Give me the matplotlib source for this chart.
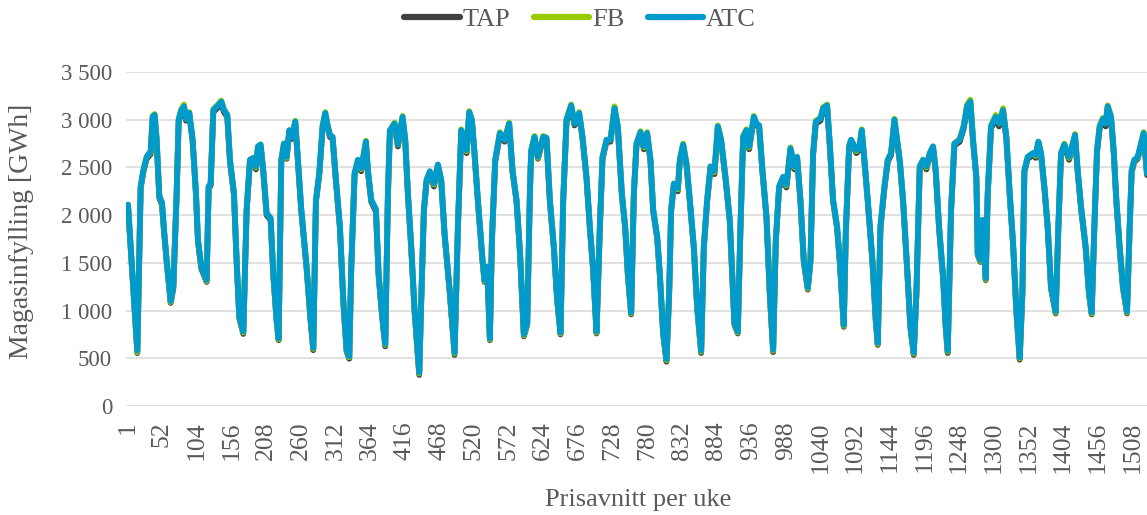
import matplotlib
matplotlib.use('Agg')
import matplotlib.pyplot as plt
from matplotlib.ticker import FixedLocator, FuncFormatter

# ---- data: reservoir filling per weekly price section [GWh] ----
weeks = [1, 15, 20, 24, 29, 35, 38, 41, 44, 48, 52, 55, 59, 65, 69, 74, 77, 81, 85, 88,
         93, 98, 103, 106, 111, 119, 122, 125, 129, 136, 141, 145, 150, 154, 160, 164, 168, 174, 179, 184,
         189, 193, 196, 200, 204, 209, 215, 219, 224, 227, 231, 235, 239, 243, 247, 252, 255, 261, 269, 275,
         279, 283, 288, 293, 297, 300, 304, 308, 313, 319, 324, 329, 333, 336, 341, 346, 351, 358, 361, 366,
         373, 377, 382, 387, 391, 394, 401, 406, 413, 417, 421, 426, 431, 438, 441, 445, 449, 454, 460, 466,
         471, 476, 484, 491, 496, 501, 505, 509, 513, 517, 521, 526, 533, 536, 540, 544, 547, 552, 559, 566,
         573, 578, 584, 589, 595, 600, 604, 606, 611, 616, 624, 629, 634, 640, 645, 650, 654, 659, 666, 671,
         678, 683, 689, 694, 699, 704, 709, 713, 719, 725, 731, 736, 742, 747, 751, 756, 760, 764, 770, 775,
         780, 785, 789, 795, 799, 804, 809, 813, 816, 820, 826, 829, 834, 839, 844, 850, 855, 861, 865, 870,
         875, 881, 886, 891, 898, 904, 911, 916, 920, 924, 929, 933, 940, 944, 948, 953, 959, 964, 969, 973,
         978, 984, 989, 995, 1001, 1005, 1010, 1015, 1021, 1025, 1029, 1033, 1040, 1044, 1050, 1054, 1059, 1065, 1069, 1075,
         1078, 1083, 1086, 1094, 1098, 1102, 1106, 1111, 1118, 1123, 1126, 1130, 1136, 1141, 1146, 1151, 1155, 1159, 1164, 1170,
         1175, 1180, 1184, 1189, 1194, 1199, 1204, 1209, 1213, 1218, 1224, 1228, 1231, 1236, 1241, 1249, 1255, 1260, 1265, 1269,
         1274, 1276, 1280, 1283, 1288, 1291, 1296, 1303, 1308, 1314, 1319, 1324, 1329, 1334, 1339, 1343, 1346, 1351, 1359, 1363,
         1367, 1371, 1376, 1381, 1386, 1393, 1397, 1401, 1406, 1413, 1416, 1422, 1426, 1431, 1438, 1443, 1447, 1451, 1455, 1459,
         1464, 1468, 1471, 1476, 1480, 1484, 1489, 1494, 1500, 1504, 1507, 1511, 1516, 1521, 1525, 1530]

atc = [2110, 580, 2300, 2470, 2610, 2670, 3030, 3050, 2790, 2200, 2130, 1850, 1530, 1100, 1250, 2230, 3000, 3100, 3140, 3010,
       3070, 2790, 2230, 1740, 1460, 1320, 2300, 2330, 3100, 3150, 3190, 3100, 3050, 2580, 2230, 1530, 940, 780, 2060, 2580,
       2600, 2510, 2720, 2740, 2470, 2020, 1970, 1390, 910, 710, 2580, 2750, 2610, 2890, 2820, 2980, 2680, 2060, 1460, 910,
       610, 2160, 2440, 2930, 3070, 2960, 2840, 2820, 2370, 1880, 1120, 590, 520, 1460, 2440, 2580, 2490, 2770, 2470, 2160,
       2060, 1390, 980, 650, 2230, 2890, 2960, 2740, 3030, 2790, 2230, 1670, 1010, 350, 1120, 2060, 2370, 2460, 2330, 2530,
       2370, 1810, 1190, 560, 1880, 2890, 2820, 2680, 3080, 3000, 2650, 2160, 1530, 1320, 1460, 710, 1740, 2580, 2860, 2790,
       2960, 2470, 2160, 1640, 750, 870, 2230, 2680, 2820, 2610, 2820, 2810, 2160, 1670, 1120, 770, 2160, 3000, 3150, 2960,
       3070, 2820, 2400, 1880, 1430, 780, 1880, 2610, 2790, 2790, 3120, 2930, 2230, 1880, 1390, 980, 2230, 2750, 2870, 2720,
       2860, 2580, 2060, 1780, 1390, 770, 490, 1190, 2060, 2330, 2280, 2580, 2740, 2540, 2160, 1670, 1050, 580, 1670, 2160,
       2510, 2460, 2930, 2790, 2370, 1950, 870, 780, 1880, 2820, 2890, 2720, 3030, 2960, 2940, 2470, 1990, 1190, 590, 1740,
       2300, 2400, 2320, 2700, 2510, 2610, 2160, 1530, 1240, 1530, 2650, 2980, 3010, 3120, 3150, 2750, 2160, 1880, 1530, 850,
       1810, 2720, 2790, 2680, 2700, 2890, 2580, 2160, 1530, 910, 660, 1880, 2300, 2580, 2650, 3000, 2790, 2580, 2160, 1460,
       840, 560, 1190, 2510, 2580, 2510, 2650, 2720, 2470, 1880, 1360, 840, 580, 2060, 2750, 2790, 2930, 3140, 3190, 2790,
       2400, 1600, 1530, 1950, 1340, 2230, 2930, 3030, 2960, 3100, 2820, 2230, 1710, 1010, 510, 1190, 2470, 2610, 2650, 2630,
       2770, 2650, 2300, 1880, 1250, 990, 1880, 2650, 2740, 2610, 2680, 2840, 2470, 2090, 1670, 1190, 980, 1880, 2680, 2930,
       3010, 2960, 3140, 3030, 2680, 2160, 1670, 1250, 990, 1880, 2470, 2580, 2610, 2750, 2860, 2440]

tap = [2100, 555, 2280, 2450, 2590, 2640, 3010, 3030, 2770, 2180, 2110, 1830, 1510, 1080, 1230, 2210, 2980, 3080, 3120, 2990,
       3050, 2770, 2210, 1720, 1440, 1300, 2280, 2310, 3080, 3130, 3170, 3080, 3030, 2560, 2210, 1510, 920, 755, 2040, 2560,
       2580, 2480, 2700, 2720, 2450, 2000, 1950, 1370, 890, 690, 2560, 2730, 2590, 2870, 2800, 2960, 2660, 2040, 1440, 890,
       585, 2140, 2420, 2910, 3050, 2940, 2820, 2800, 2350, 1860, 1100, 570, 495, 1440, 2420, 2560, 2460, 2750, 2450, 2140,
       2040, 1370, 960, 625, 2210, 2870, 2940, 2720, 3010, 2770, 2210, 1650, 990, 325, 1100, 2040, 2350, 2430, 2300, 2510,
       2350, 1790, 1170, 535, 1860, 2870, 2800, 2650, 3060, 2980, 2630, 2140, 1510, 1300, 1440, 690, 1720, 2560, 2840, 2770,
       2940, 2450, 2140, 1620, 730, 850, 2210, 2660, 2800, 2590, 2800, 2790, 2140, 1650, 1100, 750, 2140, 2980, 3130, 2940,
       3050, 2800, 2380, 1860, 1410, 760, 1860, 2590, 2770, 2770, 3100, 2910, 2210, 1860, 1370, 960, 2210, 2730, 2850, 2690,
       2840, 2560, 2040, 1760, 1370, 750, 465, 1170, 2040, 2310, 2250, 2560, 2720, 2520, 2140, 1650, 1030, 555, 1650, 2140,
       2490, 2430, 2910, 2770, 2350, 1930, 850, 760, 1860, 2800, 2870, 2690, 3010, 2940, 2920, 2450, 1970, 1170, 565, 1720,
       2280, 2380, 2290, 2680, 2480, 2590, 2140, 1510, 1220, 1510, 2630, 2960, 2990, 3100, 3130, 2730, 2140, 1860, 1510, 830,
       1790, 2700, 2770, 2650, 2680, 2870, 2560, 2140, 1510, 890, 640, 1860, 2280, 2560, 2630, 2980, 2770, 2560, 2140, 1440,
       820, 535, 1170, 2490, 2560, 2480, 2630, 2700, 2450, 1860, 1340, 820, 555, 2040, 2730, 2770, 2910, 3120, 3170, 2770,
       2380, 1580, 1510, 1930, 1320, 2210, 2910, 3010, 2930, 3080, 2800, 2210, 1690, 990, 485, 1170, 2450, 2590, 2630, 2600,
       2750, 2630, 2280, 1860, 1230, 970, 1860, 2630, 2720, 2580, 2660, 2820, 2450, 2070, 1650, 1170, 960, 1860, 2660, 2910,
       2990, 2930, 3120, 3010, 2660, 2140, 1650, 1230, 970, 1860, 2450, 2560, 2590, 2730, 2840, 2420]

fb = [2110, 565, 2300, 2470, 2610, 2660, 3040, 3060, 2790, 2200, 2130, 1850, 1530, 1090, 1250, 2230, 3010, 3110, 3160, 3010,
      3080, 2790, 2230, 1740, 1460, 1310, 2300, 2330, 3110, 3160, 3200, 3110, 3050, 2580, 2230, 1530, 930, 770, 2060, 2580,
      2600, 2500, 2720, 2740, 2470, 2020, 1970, 1390, 900, 700, 2580, 2750, 2600, 2890, 2820, 2990, 2680, 2060, 1460, 900,
      600, 2160, 2440, 2940, 3080, 2960, 2840, 2820, 2370, 1880, 1110, 580, 510, 1460, 2440, 2580, 2480, 2780, 2470, 2160,
      2060, 1390, 970, 640, 2230, 2890, 2970, 2740, 3040, 2790, 2230, 1670, 1000, 340, 1120, 2060, 2370, 2450, 2320, 2530,
      2370, 1810, 1180, 550, 1880, 2900, 2820, 2670, 3090, 3000, 2650, 2160, 1530, 1310, 1460, 700, 1740, 2580, 2870, 2790,
      2970, 2470, 2160, 1640, 740, 860, 2230, 2680, 2830, 2600, 2830, 2810, 2160, 1670, 1110, 760, 2160, 3010, 3160, 2960,
      3080, 2820, 2400, 1880, 1430, 770, 1880, 2610, 2790, 2790, 3140, 2930, 2230, 1880, 1380, 970, 2230, 2750, 2880, 2710,
      2870, 2580, 2060, 1780, 1380, 760, 480, 1190, 2060, 2330, 2270, 2580, 2750, 2540, 2160, 1670, 1040, 570, 1670, 2160,
      2510, 2450, 2940, 2790, 2370, 1950, 860, 770, 1880, 2830, 2900, 2710, 3040, 2960, 2940, 2470, 1990, 1180, 580, 1740,
      2300, 2400, 2310, 2710, 2500, 2610, 2160, 1530, 1230, 1530, 2650, 2990, 3020, 3130, 3160, 2750, 2160, 1880, 1530, 840,
      1810, 2730, 2790, 2670, 2700, 2900, 2580, 2160, 1530, 900, 650, 1880, 2300, 2580, 2650, 3010, 2790, 2580, 2160, 1460,
      830, 550, 1190, 2510, 2580, 2500, 2650, 2720, 2470, 1880, 1360, 830, 570, 2060, 2750, 2800, 2940, 3160, 3210, 2790,
      2400, 1590, 1520, 1950, 1330, 2230, 2940, 3050, 2960, 3120, 2820, 2230, 1710, 1000, 500, 1190, 2470, 2610, 2650, 2620,
      2770, 2650, 2300, 1880, 1240, 980, 1880, 2650, 2750, 2600, 2680, 2850, 2470, 2090, 1670, 1180, 970, 1880, 2680, 2940,
      3020, 2960, 3150, 3040, 2680, 2160, 1670, 1240, 980, 1880, 2470, 2580, 2600, 2750, 2870, 2440]

series_names = ['TAP', 'FB', 'ATC']
series_colors = ['#404040', '#99CC00', '#009BCC']

week_ticks = [1, 52, 104, 156, 208, 260, 312, 364, 416, 468, 520, 572, 624, 676, 728, 780,
              832, 884, 936, 988, 1040, 1092, 1144, 1196, 1248, 1300, 1352, 1404, 1456, 1508]
y_ticks = [0, 500, 1000, 1500, 2000, 2500, 3000, 3500]

#%% Plot
plt.rcParams['font.family'] = ['Liberation Serif', 'DejaVu Serif']
text_col = '#595959'

fig = plt.figure(figsize=(11.47, 5.15), dpi=100)
ax = fig.add_axes([126 / 1147, 1 - 406 / 515, 1 - 126 / 1147, (406 - 72) / 515])

for vals, name, col in zip([tap, fb, atc], series_names, series_colors):
    ax.plot(weeks, vals, color=col, lw=4.2, label=name,
            solid_joinstyle='round', solid_capstyle='round')

ax.set_xlim(-2, 1530)
ax.set_ylim(0, 3500)
ax.yaxis.set_major_locator(FixedLocator(y_ticks))
ax.yaxis.set_major_formatter(FuncFormatter(lambda v, p: '{:,.0f}'.format(v).replace(',', ' ')))
ax.set_xticks(week_ticks)
ax.set_xticklabels([str(w) for w in week_ticks], rotation=90)
ax.grid(axis='y', color='#D9D9D9', lw=1.1)
ax.set_axisbelow(True)
for s in ax.spines.values():
    s.set_visible(False)
ax.tick_params(axis='both', length=0, colors=text_col)
ax.tick_params(axis='y', pad=10, labelsize=16.5)
ax.tick_params(axis='x', pad=11, labelsize=18.5)

fig.text(22 / 1147, 1 - 231 / 515, 'Magasinfylling [GWh]', rotation=90, ha='center', va='center',
         fontsize=20, color=text_col)
fig.text(638 / 1147, 1 - 500 / 515, 'Prisavnitt per uke', ha='center', va='center',
         fontsize=19, color=text_col)

leg = fig.legend(loc='center', bbox_to_anchor=(580 / 1147, 1 - 19 / 515), ncol=3, frameon=False,
                 fontsize=19, handlelength=2.1, handletextpad=0.1, columnspacing=0.9)
for h in leg.get_lines():
    h.set_linewidth(4.5)
for t in leg.get_texts():
    t.set_color(text_col)

fig.savefig('out.png', dpi=100)
